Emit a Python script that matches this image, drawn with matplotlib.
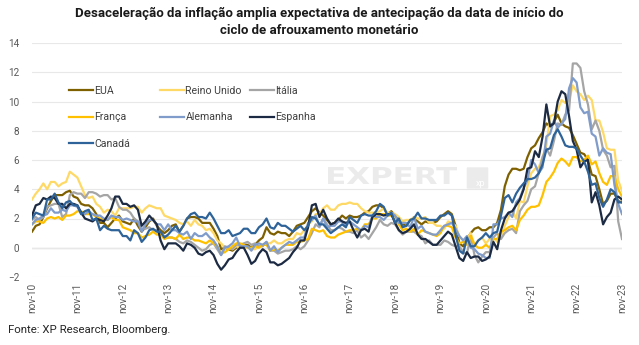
import matplotlib.pyplot as plt
from matplotlib.patches import FancyBboxPatch, PathPatch
from matplotlib.textpath import TextPath
from matplotlib.font_manager import FontProperties
from matplotlib.transforms import Affine2D
from matplotlib.legend import Legend

plt.rcParams['font.family'] = ['Roboto', 'DejaVu Sans']

# ---- data (CPI YoY %, monthly, nov-10 .. nov-23) ----
tick_labels = ['nov-%02d' % y for y in range(10, 24)]

eua = [1.1, 1.5,
       1.6, 2.1, 2.7, 3.2, 3.6, 3.6, 3.6, 3.8, 3.9, 3.5, 3.4, 3.0,
       2.9, 2.9, 2.7, 2.3, 1.7, 1.7, 1.4, 1.7, 2.0, 2.2, 1.8, 1.7,
       1.6, 2.0, 1.5, 1.1, 1.4, 1.8, 2.0, 1.5, 1.2, 1.0, 1.2, 1.5,
       1.6, 1.1, 1.5, 2.0, 2.1, 2.1, 2.0, 1.7, 1.7, 1.7, 1.3, 0.8,
       -0.1, 0.0, -0.1, -0.2, 0.0, 0.1, 0.2, 0.2, 0.0, 0.2, 0.5, 0.7,
       1.4, 1.0, 0.9, 1.1, 1.0, 1.0, 0.8, 1.1, 1.5, 1.6, 1.7, 2.1,
       2.5, 2.7, 2.4, 2.2, 1.9, 1.6, 1.7, 1.9, 2.2, 2.0, 2.2, 2.1,
       2.1, 2.2, 2.4, 2.5, 2.8, 2.9, 2.9, 2.7, 2.3, 2.5, 2.2, 1.9,
       1.6, 1.5, 1.9, 2.0, 1.8, 1.6, 1.8, 1.7, 1.7, 1.8, 2.1, 2.3,
       2.5, 2.3, 1.5, 0.3, 0.1, 0.6, 1.0, 1.3, 1.4, 1.2, 1.2, 1.4,
       1.4, 1.7, 2.6, 4.2, 5.0, 5.4, 5.4, 5.3, 5.4, 6.2, 6.8, 7.0,
       7.5, 7.9, 8.5, 8.3, 8.6, 9.1, 8.5, 8.3, 8.2, 7.7, 7.1, 6.5,
       6.4, 6.0, 5.0, 4.9, 4.0, 3.0, 3.2, 3.7, 3.7, 3.2, 3.1]

reino_unido = [3.3, 3.7,
               4.0, 4.4, 4.0, 4.5, 4.5, 4.2, 4.4, 4.5, 5.2, 5.0, 4.8, 4.2,
               3.6, 3.4, 3.5, 3.0, 2.8, 2.4, 2.6, 2.5, 2.2, 2.7, 2.7, 2.7,
               2.7, 2.8, 2.8, 2.4, 2.7, 2.9, 2.8, 2.7, 2.7, 2.2, 2.1, 2.0,
               1.9, 1.7, 1.6, 1.8, 1.5, 1.9, 1.6, 1.5, 1.2, 1.3, 1.0, 0.5,
               0.3, 0.0, 0.0, -0.1, 0.1, 0.0, 0.1, 0.0, -0.1, -0.1, 0.1, 0.2,
               0.3, 0.3, 0.5, 0.3, 0.3, 0.5, 0.6, 0.6, 1.0, 0.9, 1.2, 1.6,
               1.8, 2.3, 2.3, 2.7, 2.9, 2.6, 2.6, 2.9, 3.0, 3.0, 3.1, 3.0,
               3.0, 2.7, 2.5, 2.4, 2.4, 2.4, 2.5, 2.7, 2.4, 2.4, 2.3, 2.1,
               1.8, 1.9, 1.9, 2.1, 2.0, 2.0, 2.1, 1.7, 1.7, 1.5, 1.5, 1.3,
               1.8, 1.7, 1.5, 0.8, 0.5, 0.6, 1.0, 0.2, 0.5, 0.7, 0.3, 0.6,
               0.7, 0.4, 0.7, 1.5, 2.1, 2.5, 2.0, 3.2, 3.1, 4.2, 5.1, 5.4,
               5.5, 6.2, 7.0, 9.0, 9.1, 9.4, 10.1, 9.9, 10.1, 11.1, 10.7, 10.5,
               10.1, 10.4, 10.1, 8.7, 8.7, 7.9, 6.8, 6.7, 6.7, 4.6, 3.9]

italia = [1.9, 2.1,
          1.9, 2.1, 2.8, 2.9, 3.0, 3.0, 2.1, 2.3, 3.6, 3.8, 3.7, 3.7,
          3.4, 3.8, 3.8, 3.7, 3.5, 3.6, 3.6, 3.3, 3.4, 2.8, 2.6, 2.6,
          2.4, 2.0, 1.8, 1.3, 1.3, 1.4, 1.2, 1.2, 0.9, 0.8, 0.7, 0.7,
          0.6, 0.4, 0.3, 0.5, 0.4, 0.2, 0.0, -0.2, -0.1, 0.2, 0.3, -0.1,
          -0.5, 0.1, 0.0, -0.1, 0.2, 0.2, 0.3, 0.4, 0.2, 0.3, 0.1, 0.1,
          0.4, -0.2, -0.2, -0.4, -0.3, -0.2, -0.2, -0.1, 0.1, -0.1, 0.1, 0.5,
          1.0, 1.6, 1.4, 2.0, 1.6, 1.2, 1.2, 1.4, 1.3, 1.1, 1.1, 1.0,
          1.2, 0.7, 0.9, 0.6, 1.0, 1.4, 1.9, 1.6, 1.5, 1.7, 1.6, 1.2,
          0.9, 1.1, 1.1, 1.1, 0.9, 0.8, 0.3, 0.5, 0.2, 0.2, 0.2, 0.5,
          0.4, 0.2, 0.1, 0.1, -0.3, -0.4, 0.8, -0.5, -1.0, -0.6, -0.3, -0.3,
          0.7, 1.0, 0.6, 1.0, 1.2, 1.3, 1.0, 2.5, 2.9, 3.2, 4.0, 4.2,
          5.1, 6.2, 6.8, 6.3, 7.3, 8.5, 8.4, 9.1, 9.4, 12.6, 12.6, 12.3,
          10.7, 9.8, 8.1, 8.7, 8.0, 6.7, 6.3, 5.5, 5.6, 1.8, 0.6]

franca = [1.6, 1.8,
          1.8, 1.7, 2.0, 2.1, 2.0, 2.1, 1.9, 2.2, 2.2, 2.3, 2.5, 2.5,
          2.3, 2.3, 2.3, 2.1, 2.0, 1.9, 1.9, 2.1, 1.9, 1.9, 1.4, 1.3,
          1.2, 1.0, 1.0, 0.7, 0.8, 0.9, 1.1, 0.9, 0.9, 0.6, 0.7, 0.7,
          0.6, 0.9, 0.6, 0.7, 0.7, 0.5, 0.5, 0.4, 0.3, 0.5, 0.3, 0.1,
          -0.4, -0.3, -0.1, 0.1, 0.3, 0.3, 0.2, 0.0, 0.0, 0.1, 0.0, 0.2,
          0.2, -0.2, -0.1, -0.2, 0.0, 0.2, 0.2, 0.2, 0.4, 0.4, 0.5, 0.6,
          1.3, 1.2, 1.1, 1.2, 0.8, 0.7, 0.7, 0.9, 1.0, 1.1, 1.2, 1.2,
          1.3, 1.2, 1.6, 1.6, 2.0, 2.0, 2.3, 2.3, 2.2, 2.2, 1.9, 1.6,
          1.2, 1.3, 1.1, 1.3, 0.9, 1.2, 1.1, 1.0, 0.9, 0.8, 1.0, 1.5,
          1.5, 1.4, 0.7, 0.3, 0.4, 0.2, 0.8, 0.2, 0.0, 0.0, 0.2, 0.0,
          0.6, 0.6, 1.1, 1.2, 1.4, 1.5, 1.2, 1.9, 2.2, 2.6, 2.8, 2.8,
          2.9, 3.6, 4.5, 4.8, 5.2, 5.8, 6.1, 5.9, 5.6, 6.2, 6.2, 5.9,
          6.0, 6.3, 5.7, 5.9, 5.1, 4.5, 4.3, 4.9, 4.9, 4.0, 3.5]

alemanha = [1.6, 1.9,
            2.0, 2.2, 2.3, 2.7, 2.4, 2.4, 2.6, 2.5, 2.9, 2.9, 2.8, 2.3,
            2.3, 2.5, 2.3, 2.2, 2.2, 2.0, 1.9, 2.2, 2.1, 2.1, 1.9, 2.0,
            1.9, 1.8, 1.8, 1.1, 1.6, 1.9, 1.9, 1.6, 1.6, 1.2, 1.6, 1.2,
            1.2, 1.0, 0.9, 1.1, 0.6, 1.0, 0.8, 0.8, 1.0, 0.7, 0.5, 0.1,
            -0.5, 0.0, 0.1, 0.3, 0.7, 0.1, 0.1, 0.1, -0.2, 0.2, 0.3, 0.2,
            0.4, -0.2, 0.1, -0.3, 0.0, 0.2, 0.4, 0.3, 0.5, 0.7, 0.7, 1.7,
            1.9, 2.2, 1.5, 2.0, 1.4, 1.5, 1.5, 1.8, 1.8, 1.5, 1.8, 1.6,
            1.4, 1.2, 1.5, 1.4, 2.2, 2.1, 2.1, 1.9, 2.2, 2.4, 2.2, 1.7,
            1.7, 1.7, 1.4, 2.1, 1.3, 1.5, 1.1, 1.0, 0.9, 0.9, 1.2, 1.5,
            1.6, 1.7, 1.3, 0.8, 0.5, 0.8, 0.0, -0.1, -0.4, -0.5, -0.7, -0.7,
            1.6, 1.6, 2.0, 2.1, 2.4, 2.1, 3.1, 3.4, 4.1, 4.6, 6.0, 5.7,
            5.1, 5.5, 7.6, 7.8, 8.7, 8.2, 8.5, 8.8, 10.9, 11.6, 11.3, 9.6,
            9.2, 9.3, 7.8, 7.6, 6.3, 6.8, 6.5, 6.4, 4.3, 3.0, 2.3]

espanha = [2.2, 2.9,
           3.0, 3.4, 3.3, 3.5, 3.4, 3.0, 3.0, 2.7, 3.0, 3.0, 2.9, 2.4,
           2.0, 1.9, 1.8, 2.0, 1.9, 1.8, 2.2, 2.7, 3.5, 3.5, 3.0, 3.0,
           2.8, 2.9, 2.6, 1.5, 1.8, 2.2, 1.9, 1.6, 0.5, -0.1, 0.3, 0.3,
           0.3, 0.1, -0.2, 0.3, 0.2, 0.0, -0.4, -0.5, -0.3, -0.2, -0.5, -1.1,
           -1.5, -1.2, -0.8, -0.7, -0.3, 0.0, 0.0, -0.5, -1.1, -0.9, -0.4, -0.1,
           -0.3, -1.0, -1.0, -1.2, -1.1, -0.9, -0.7, -0.3, 0.0, 0.5, 0.5, 1.4,
           2.9, 3.0, 2.1, 2.6, 2.0, 1.6, 1.7, 2.0, 1.8, 1.7, 1.8, 1.2,
           0.7, 1.2, 1.3, 1.1, 2.1, 2.3, 2.3, 2.2, 2.3, 2.3, 1.7, 1.2,
           1.0, 1.1, 1.3, 1.6, 0.9, 0.6, 0.6, 0.4, 0.2, 0.2, 0.5, 0.8,
           1.1, 0.9, 0.1, -0.7, -0.9, -0.3, -0.7, -0.6, -0.6, -0.9, -0.8, -0.6,
           0.4, -0.1, 1.2, 2.0, 2.4, 2.5, 2.9, 3.3, 4.0, 5.4, 5.5, 6.6,
           6.2, 7.6, 9.8, 8.3, 8.5, 10.0, 10.7, 10.5, 9.0, 7.3, 6.7, 5.5,
           5.9, 6.0, 3.1, 3.8, 2.9, 1.6, 2.1, 2.4, 3.3, 3.5, 3.3]

canada = [2.0, 2.4,
          2.3, 2.2, 3.3, 3.3, 3.7, 3.1, 2.7, 3.1, 3.2, 2.9, 2.9, 2.3,
          2.5, 2.6, 1.9, 2.0, 1.2, 1.5, 1.3, 1.2, 1.2, 1.2, 0.8, 0.8,
          0.5, 1.2, 1.0, 0.4, 0.7, 1.2, 1.3, 1.1, 1.1, 0.7, 0.9, 1.2,
          1.5, 1.1, 1.5, 2.0, 2.3, 2.4, 2.1, 2.1, 2.0, 2.4, 2.0, 1.5,
          1.0, 1.0, 1.2, 0.8, 0.9, 1.0, 1.3, 1.3, 1.0, 1.0, 1.4, 1.6,
          2.0, 1.4, 1.3, 1.7, 1.5, 1.5, 1.3, 1.1, 1.3, 1.5, 1.2, 1.5,
          2.1, 2.0, 1.6, 1.6, 1.3, 1.0, 1.2, 1.4, 1.6, 1.4, 2.1, 1.9,
          1.7, 2.2, 2.3, 2.2, 2.2, 2.5, 3.0, 2.8, 2.2, 2.4, 1.7, 2.0,
          1.4, 1.5, 1.9, 2.0, 2.4, 2.0, 2.0, 1.9, 1.9, 1.9, 2.2, 2.2,
          2.4, 2.2, 0.9, -0.2, -0.4, 0.7, 0.1, 0.1, 0.5, 0.7, 1.0, 0.7,
          1.0, 1.1, 2.2, 3.4, 3.6, 3.1, 3.7, 4.1, 4.4, 4.7, 4.7, 4.8,
          5.1, 5.7, 6.7, 6.8, 7.7, 8.1, 7.6, 7.0, 6.9, 6.9, 6.8, 6.3,
          5.9, 5.2, 4.3, 4.4, 3.4, 2.8, 3.3, 4.0, 3.8, 3.1, 3.1]

series = [
    ('EUA', eua, '#7f6000'),
    ('Reino Unido', reino_unido, '#ffd966'),
    ('Itália', italia, '#a5a5a5'),
    ('França', franca, '#ffc000'),
    ('Alemanha', alemanha, '#7f9ccb'),
    ('Espanha', espanha, '#1c2b43'),
    ('Canadá', canada, '#2e6399'),
]

W, H = 639, 345
fig = plt.figure(figsize=(W / 100, H / 100), dpi=100)
ax = fig.add_axes([32 / W, 1 - 277 / H, 590 / W, 234 / H])

months = list(range(len(eua)))
lines = {}
for name, vals, col in series:
    ln, = ax.plot(months, vals, color=col, lw=1.6, label=name, zorder=3,
                  solid_joinstyle='round')
    lines[name] = ln

ax.set_xlim(0, len(eua) - 1)
ax.set_ylim(-2, 14)
ax.set_yticks(range(-2, 15, 2))
ax.set_xticks(range(0, len(eua), 12))
ax.set_xticklabels(tick_labels, rotation=90)
ax.tick_params(axis='both', length=0, labelsize=7.2, colors='#595959', pad=4)
ax.tick_params(axis='y', pad=9)
for s in ax.spines.values():
    s.set_visible(False)
ax.grid(axis='y', color='#e8e8e8', lw=0.8, zorder=0)
ax.axhline(0, color='#d9d9d9', lw=1.0, zorder=1)

# legend: three fixed-width columns, like the original
cols = [(['EUA', 'França', 'Canadá'], 69),
        (['Reino Unido', 'Alemanha'], 160),
        (['Itália', 'Espanha'], 250)]
for names, xpx in cols:
    leg = Legend(ax, [lines[n] for n in names], names,
                 loc='upper left', bbox_to_anchor=(xpx / W, 1 - 86 / H),
                 bbox_transform=fig.transFigure, frameon=False, fontsize=7.6,
                 handlelength=2.3, handletextpad=0.1, labelspacing=1.55,
                 borderpad=0, borderaxespad=0)
    for t in leg.get_texts():
        t.set_color('#404040')
    ax.add_artist(leg)

# watermark "EXPERT" stretched to fit its box, plus the xp badge
tp = TextPath((0, 0), 'EXPERT', size=10,
              prop=FontProperties(family='DejaVu Sans', weight='bold'))
ext = tp.get_extents()
x0, x1, y0, y1 = 328, 457, 167, 184
tr = (Affine2D().translate(-ext.x0, -ext.y0)
      .scale((x1 - x0) / W / ext.width, (y1 - y0) / H / ext.height)
      .translate(x0 / W, 1 - y1 / H))
fig.patches.append(PathPatch(tr.transform_path(tp), transform=fig.transFigure,
                             fc='#ebebeb', ec='none', zorder=0))
fig.patches.append(FancyBboxPatch((468 / W, 1 - 188 / H), 19 / W, 20 / H,
                                  boxstyle='round,pad=0.002', transform=fig.transFigure,
                                  fc='#ebebeb', ec='none', zorder=0))
fig.text(481 / W, 1 - 183 / H, 'xp', fontsize=6.5, color='white',
         ha='center', va='center', zorder=1)

fig.text(0.5, 1 - 13 / H,
         'Desaceleração da inflação amplia expectativa de antecipação da data de início do',
         ha='center', va='center', fontsize=9.5, fontweight='bold', color='#1a1a1a')
fig.text(0.5, 1 - 30 / H, 'ciclo de afrouxamento monetário',
         ha='center', va='center', fontsize=9.5, fontweight='bold', color='#1a1a1a')
fig.text(8 / W, 1 - 330 / H, 'Fonte: XP Research, Bloomberg.',
         ha='left', va='center', fontsize=8.2, color='#262626')

fig.savefig('out.png', dpi=100)
